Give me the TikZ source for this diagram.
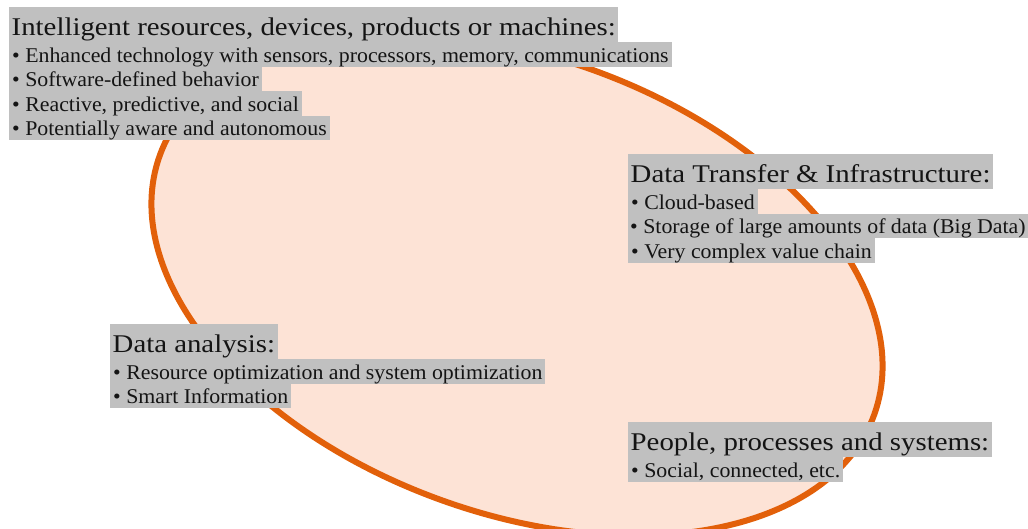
\documentclass[tikz,border=0pt]{standalone}
\usepackage{fontspec}
\setmainfont{Liberation Serif}
\newfontfamily\ttlfont{Liberation Serif}[FakeStretch=1.13]
\newfontfamily\bulfont{Liberation Serif}[FakeStretch=1.04]
\definecolor{ringorange}{HTML}{E2600A}
\definecolor{peach}{HTML}{FDE3D6}
\definecolor{hl}{HTML}{C0C0C0}
\definecolor{ink}{HTML}{141414}
\tikzset{
  ttl/.style={anchor=north west, fill=hl, inner xsep=2.5pt, inner ysep=0pt,
    text height=28pt, text depth=7pt, font=\ttlfont\fontsize{25.5}{30}\selectfont, text=ink},
  bul/.style={anchor=north west, fill=hl, inner xsep=3pt, inner ysep=0pt,
    text height=20pt, text depth=4.5pt, font=\bulfont\fontsize{21}{24}\selectfont, text=ink},
  ring/.style={draw=ringorange, line width=6pt, fill=peach}
}
\begin{document}
\begin{tikzpicture}[x=1pt,y=-1pt]
\useasboundingbox (0,0) rectangle (1028,528);
\clip (0,0) rectangle (1028,528);
\coordinate (c) at (517,285);
\draw[ring, rotate around={-20:(c)}] (c) ellipse [x radius=380, y radius=228];
% block 1
\node[ttl] (i0) at (9,7) {Intelligent resources, devices, products or machines:};
\node[bul] (i1) at (9,42) {• Enhanced technology with sensors, processors, memory, communications};
\node[bul] (i2) at (9,66.5) {• Software-defined behavior};
\node[bul] (i3) at (9,91) {• Reactive, predictive, and social};
\node[bul] (i4) at (9,115.5) {• Potentially aware and autonomous};
% block 2
\node[ttl] (d0) at (628,154) {Data Transfer \& Infrastructure:};
\node[bul] (d1) at (628,189) {• Cloud-based};
\node[bul, inner xsep=2pt] (d2) at (628,213.5) {• Storage of large amounts of data (Big Data)};
\node[bul] (d3) at (628,238) {• Very complex value chain};
% block 3
\node[ttl] (a0) at (110,324) {Data analysis:};
\node[bul] (a1) at (110,359) {• Resource optimization and system optimization};
\node[bul] (a2) at (110,383.5) {• Smart Information};
% block 4
\node[ttl] (p0) at (628,422) {People, processes and systems:};
\node[bul] (p1) at (628,457) {• Social, connected, etc.};
\end{tikzpicture}
\end{document}
